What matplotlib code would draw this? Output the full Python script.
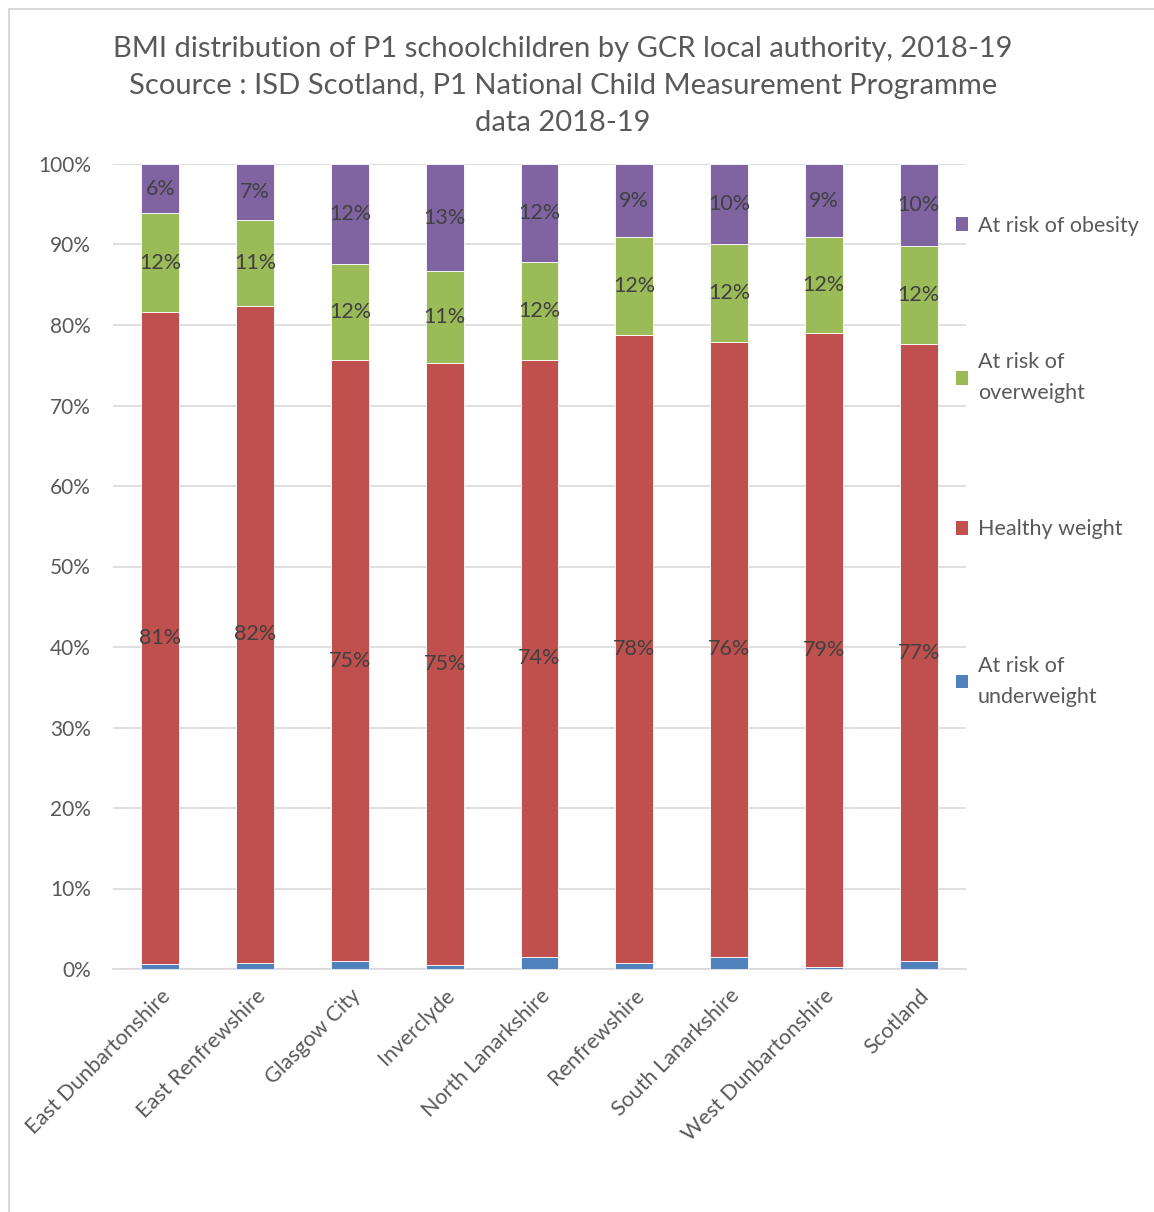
import numpy as np
import matplotlib
matplotlib.use('Agg')
from matplotlib import pyplot as plt
from matplotlib.patches import Patch
from matplotlib.lines import Line2D

areas = ['East Dunbartonshire', 'East Renfrewshire', 'Glasgow City', 'Inverclyde',
         'North Lanarkshire', 'Renfrewshire', 'South Lanarkshire',
         'West Dunbartonshire', 'Scotland']

underweight = [0.6, 0.8, 1.0, 0.5, 1.5, 0.8, 1.5, 0.3, 1.0]
healthy = [81.0, 81.6, 74.6, 74.8, 74.2, 78.0, 76.4, 78.7, 76.6]
overweight = [12.3, 10.6, 12.0, 11.4, 12.1, 12.1, 12.2, 11.9, 12.2]
obesity = [6.1, 7.0, 12.4, 13.3, 12.2, 9.1, 9.9, 9.1, 10.2]

series = [
    ('At risk of\nunderweight', underweight, '#4f81bd', False),
    ('Healthy weight', healthy, '#c0504d', True),
    ('At risk of\noverweight', overweight, '#9bbb59', True),
    ('At risk of obesity', obesity, '#8064a2', True),
]

plt.rcParams['font.family'] = ['Lato', 'DejaVu Sans']
text_col = '#595959'

fig = plt.figure(figsize=(11.54, 12.12), dpi=100)
ax = fig.add_axes([113 / 1154, 1 - 969 / 1212, 853 / 1154, 805 / 1212])

x = np.arange(len(areas))
bottom = np.zeros(len(areas))
handles = []
for name, vals, col, show in series:
    vals = np.array(vals)
    ax.bar(x, vals, 0.4, bottom=bottom, color=col, edgecolor='white',
           linewidth=0.6, zorder=3)
    if show:
        for xi, b, v in zip(x, bottom, vals):
            ax.text(xi, b + v / 2, f'{int(round(v))}%', ha='center', va='center',
                    fontsize=15.5, color='#404040', zorder=4)
    bottom += vals
    handles.append(Patch(facecolor=col, label=name))

ax.set_xlim(-0.5, len(areas) - 0.5)
ax.set_ylim(0, 100)
ax.set_yticks(np.arange(0, 101, 10))
ax.set_yticklabels([f'{v}%' for v in range(0, 101, 10)])
ax.yaxis.grid(True, color='#d9d9d9', linewidth=1.2, zorder=0)
ax.set_axisbelow(True)
for s in ['top', 'right', 'left']:
    ax.spines[s].set_visible(False)
ax.spines['bottom'].set_color('#d9d9d9')
ax.spines['bottom'].set_linewidth(1.2)
ax.tick_params(length=0, labelsize=15, colors=text_col)
ax.tick_params(axis='y', pad=16)
ax.set_xticks(x)
ax.set_xticklabels(areas, rotation=45, ha='right', rotation_mode='anchor',
                   fontsize=15.5)
ax.tick_params(axis='x', pad=12)

leg = ax.legend(handles=handles[::-1], loc='upper left', bbox_to_anchor=(0.965, 0.96),
                frameon=False, fontsize=15.5, labelspacing=5.4, handlelength=0.6,
                handleheight=0.6, handletextpad=0.45, labelcolor=text_col)
for t in leg.get_texts():
    t.set_linespacing(1.7)

fig.text(0.488, 1 - 86 / 1212,
         'BMI distribution of P1 schoolchildren by GCR local authority, 2018-19\n'
         'Scource : ISD Scotland, P1 National Child Measurement Programme\n'
         'data 2018-19',
         ha='center', va='center', fontsize=21, color=text_col, linespacing=1.52)

# chart border
fig.add_artist(Line2D([9 / 1154, 9 / 1154], [0, 1 - 9 / 1212], color='#d9d9d9',
                      linewidth=1.5, transform=fig.transFigure))
fig.add_artist(Line2D([9 / 1154, 1], [1 - 9 / 1212, 1 - 9 / 1212], color='#d9d9d9',
                      linewidth=1.5, transform=fig.transFigure))

fig.savefig('out.png', dpi=100)
